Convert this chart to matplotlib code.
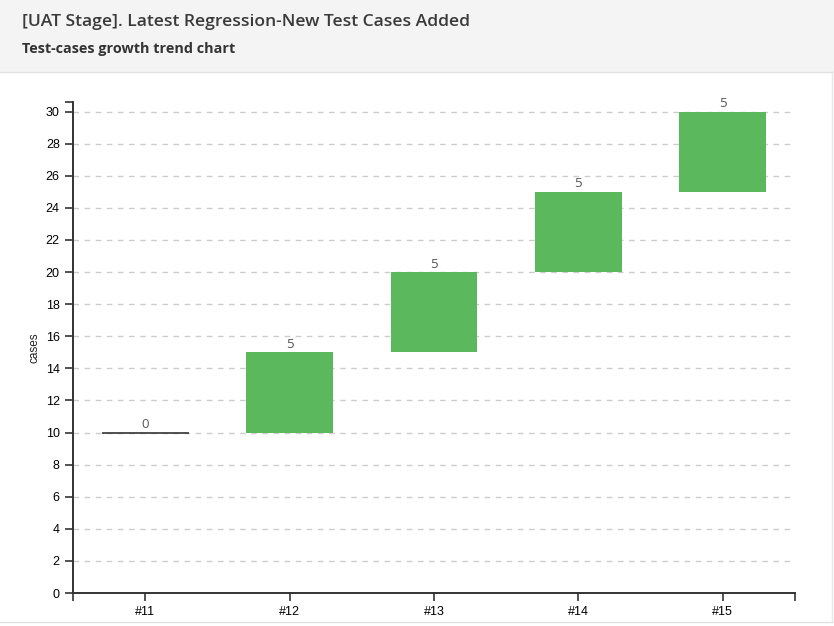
import matplotlib
matplotlib.use("Agg")
import matplotlib.pyplot as plt
from matplotlib.lines import Line2D
from matplotlib.patches import Rectangle

# builds and test-case counts
builds = ['#11', '#12', '#13', '#14', '#15']
base_cases = [10, 10, 15, 20, 25]   # cases before the build
added_cases = [0, 5, 5, 5, 5]       # new cases added in the build
y_ticks = [0, 2, 4, 6, 8, 10, 12, 14, 16, 18, 20, 22, 24, 26, 28, 30]

title = '[UAT Stage]. Latest Regression-New Test Cases Added'
subtitle = 'Test-cases growth trend chart'

fig = plt.figure(figsize=(8.34, 6.26), dpi=100)
fig.patch.set_facecolor('white')

# header band
fig.patches.append(Rectangle((0, 1 - 72 / 626), 1, 72 / 626, transform=fig.transFigure,
                             facecolor='#f4f4f4', edgecolor='none', zorder=0))
fig.lines.append(Line2D([0, 1], [1 - 72 / 626] * 2, transform=fig.transFigure,
                        color='#e2e2e2', lw=1))
fig.lines.append(Line2D([0, 1], [1 - 622 / 626] * 2, transform=fig.transFigure,
                        color='#e2e2e2', lw=1))
fig.lines.append(Line2D([1 - 2 / 834] * 2, [1 - 622 / 626, 1 - 72 / 626], transform=fig.transFigure,
                        color='#e8e8e8', lw=1))
fig.text(22 / 834, 1 - 22 / 626, title, fontsize=12.6, family='Open Sans',
         fontweight='semibold', color='#3a3a3a', va='center', ha='left')
fig.text(22 / 834, 1 - 49 / 626, subtitle, fontsize=10.4, family='Open Sans',
         fontweight='bold', color='#333333', va='center', ha='left')

ax = fig.add_axes([73 / 834, 33 / 626, 722 / 834, 491 / 626])
x = list(range(len(builds)))
bars = ax.bar(x, added_cases, bottom=base_cases, width=0.6, color='#5cb85c',
              edgecolor='none', zorder=3)

# zero bars shown as a flat line
for rect, val in zip(bars, added_cases):
    if val == 0:
        ax.hlines(rect.get_y(), rect.get_x(), rect.get_x() + rect.get_width(),
                  color='#333333', lw=1.2, zorder=4)

ax.bar_label(bars, labels=[str(v) for v in added_cases], padding=1,
             fontsize=9.5, family='Open Sans', color='#555555')

ax.set_xlim(-0.5, len(builds) - 0.5)
ax.set_ylim(0, 30.6)
ax.set_xticks(x)
ax.set_xticklabels(builds)
ax.set_yticks(y_ticks)
ax.set_yticks([30.6], minor=True)
ax.set_xticks([-0.5, len(builds) - 0.5], minor=True)
ax.tick_params(axis='both', which='both', length=6, width=1.2, color='#333333',
               labelsize=9, labelcolor='black')
ax.tick_params(axis='both', which='minor', labelleft=False, labelbottom=False)
for lab in ax.get_xticklabels() + ax.get_yticklabels():
    lab.set_family('Liberation Sans')

ax.grid(axis='y', linestyle=(0, (4, 4)), color='#cccccc', lw=1, zorder=0)
ax.set_axisbelow(True)
for side in ['top', 'right']:
    ax.spines[side].set_visible(False)
for side in ['left', 'bottom']:
    ax.spines[side].set_color('#333333')
    ax.spines[side].set_linewidth(1.4)

ax.set_ylabel('cases', fontsize=8.5, family='Liberation Sans', color='#222222', labelpad=4)

fig.savefig('out.png', dpi=100)
